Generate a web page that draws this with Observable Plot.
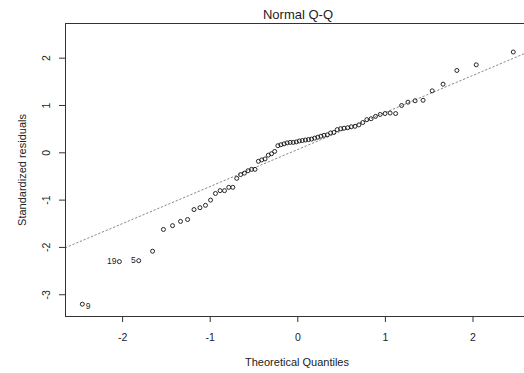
<!DOCTYPE html>
<html><head><meta charset="utf-8">
<script src="https://cdn.jsdelivr.net/npm/d3@7"></script>
<script src="https://cdn.jsdelivr.net/npm/@observablehq/plot@0.6"></script>
<style>html,body{margin:0;padding:0;background:#fff;overflow:hidden} svg{display:block}</style>
</head><body><div id="chart"></div>
<script>
// Theoretical quantiles (x)
const theoreticalQuantiles = [
  -2.460, -2.037, -1.816, -1.658, -1.534, -1.430, -1.339, -1.258, -1.185, -1.117,
  -1.054, -0.996, -0.940, -0.887, -0.837, -0.788, -0.742, -0.697, -0.653, -0.610,
  -0.569, -0.528, -0.489, -0.450, -0.412, -0.374, -0.337, -0.300, -0.264, -0.228,
  -0.193, -0.157, -0.122, -0.087, -0.052, -0.017,
   0.017,  0.052,  0.087,  0.122,  0.157,  0.193,  0.228,  0.264,  0.300,  0.337,
   0.374,  0.412,  0.450,  0.489,  0.528,  0.569,  0.610,  0.653,  0.697,  0.742,
   0.788,  0.837,  0.887,  0.940,  0.996,  1.054,  1.117,  1.185,  1.258,  1.339,
   1.430,  1.534,  1.658,  1.816,  2.037,  2.460
];
// Standardized residuals (y)
const standardizedResiduals = [
  -3.20, -2.30, -2.28, -2.08, -1.62, -1.54, -1.45, -1.41, -1.20, -1.16,
  -1.11, -1.00, -0.86, -0.80, -0.80, -0.73, -0.73, -0.54, -0.46, -0.43,
  -0.38, -0.35, -0.35, -0.18, -0.15, -0.13, -0.05, -0.02,  0.03,  0.15,
   0.17,  0.19,  0.21,  0.22,  0.22,  0.23,
   0.25,  0.26,  0.27,  0.28,  0.29,  0.31,  0.33,  0.35,  0.37,  0.38,
   0.42,  0.43,  0.49,  0.51,  0.52,  0.53,  0.55,  0.56,  0.59,  0.64,
   0.70,  0.72,  0.77,  0.81,  0.83,  0.84,  0.83,  1.00,  1.07,  1.10,
   1.11,  1.31,  1.45,  1.74,  1.86,  2.13
];
// Labelled observations (index into the arrays above, label text)
const labelIndex = [0, 1, 2];
const labelText = ["9", "19", "5"];
// Reference (qq) line: intercept and slope
const qqIntercept = 0.071;
const qqSlope = 0.783;

const xTicks = [-2, -1, 0, 1, 2];
const yTicks = [-3, -2, -1, 0, 1, 2];
const xDomain = [-2.652, 2.588];
const yDomain = [-3.46, 2.733];

const points = theoreticalQuantiles.map((x, i) => ({x, y: standardizedResiduals[i]}));
const labels = labelIndex.map((k, j) => ({x: theoreticalQuantiles[k], y: standardizedResiduals[k], text: labelText[j]}));
const lineData = xDomain.map(x => ({x, y: qqIntercept + qqSlope * x}));

const font = "'Liberation Sans', Arial, sans-serif";
const ink = "#222";

const chart = Plot.plot({
  width: 524,
  height: 373,
  marginLeft: 65,
  marginRight: 0,
  marginTop: 23,
  marginBottom: 57,
  style: {fontFamily: font, color: ink, background: "#fff"},
  x: {domain: xDomain, label: null},
  y: {domain: yDomain, label: null},
  marks: [
    Plot.line(lineData, {x: "x", y: "y", stroke: "#888", strokeWidth: 1, strokeDasharray: "1.5,2.5"}),
    Plot.dot(points, {x: "x", y: "y", r: 2, stroke: "#111", strokeWidth: 0.9, fill: "none"}),
    Plot.text(labels.filter(d => d.text === "9"), {x: "x", y: "y", text: "text", textAnchor: "start", dx: 3.5, dy: 2.5, fontSize: 8.5, fill: ink}),
    Plot.text(labels.filter(d => d.text !== "9"), {x: "x", y: "y", text: "text", textAnchor: "end", dx: -3, dy: 0, fontSize: 8.5, fill: ink}),
    Plot.ruleX([xDomain[0]], {stroke: "#333", strokeWidth: 1}),
    Plot.ruleY([yDomain[0], yDomain[1]], {stroke: "#333", strokeWidth: 1}),
    Plot.axisX({ticks: xTicks, tickSize: 6, tickPadding: 11, fontSize: 10.5, label: null, stroke: "#333", tickFormat: d => String(d)}),
    Plot.axisY({ticks: yTicks, tickSize: 6, tickFormat: () => "", label: null, stroke: "#333"}),
    Plot.text(yTicks, {y: d => d, text: d => String(d), frameAnchor: "left", lineAnchor: "middle", textAnchor: "middle", dx: -18.5, rotate: -90, fontSize: 10.5, fill: ink}),
    Plot.text(["Normal Q-Q"], {frameAnchor: "top", lineAnchor: "middle", dx: 3, dy: -8.5, fontSize: 13, fill: ink}),
    Plot.text(["Theoretical Quantiles"], {frameAnchor: "bottom", lineAnchor: "middle", dx: 2, dy: 45.5, fontSize: 11, fill: ink}),
    Plot.text(["Standardized residuals"], {frameAnchor: "left", lineAnchor: "middle", textAnchor: "middle", dx: -43.5, rotate: -90, fontSize: 11, fill: ink})
  ]
});
document.getElementById("chart").appendChild(chart);
</script>
</body></html>
